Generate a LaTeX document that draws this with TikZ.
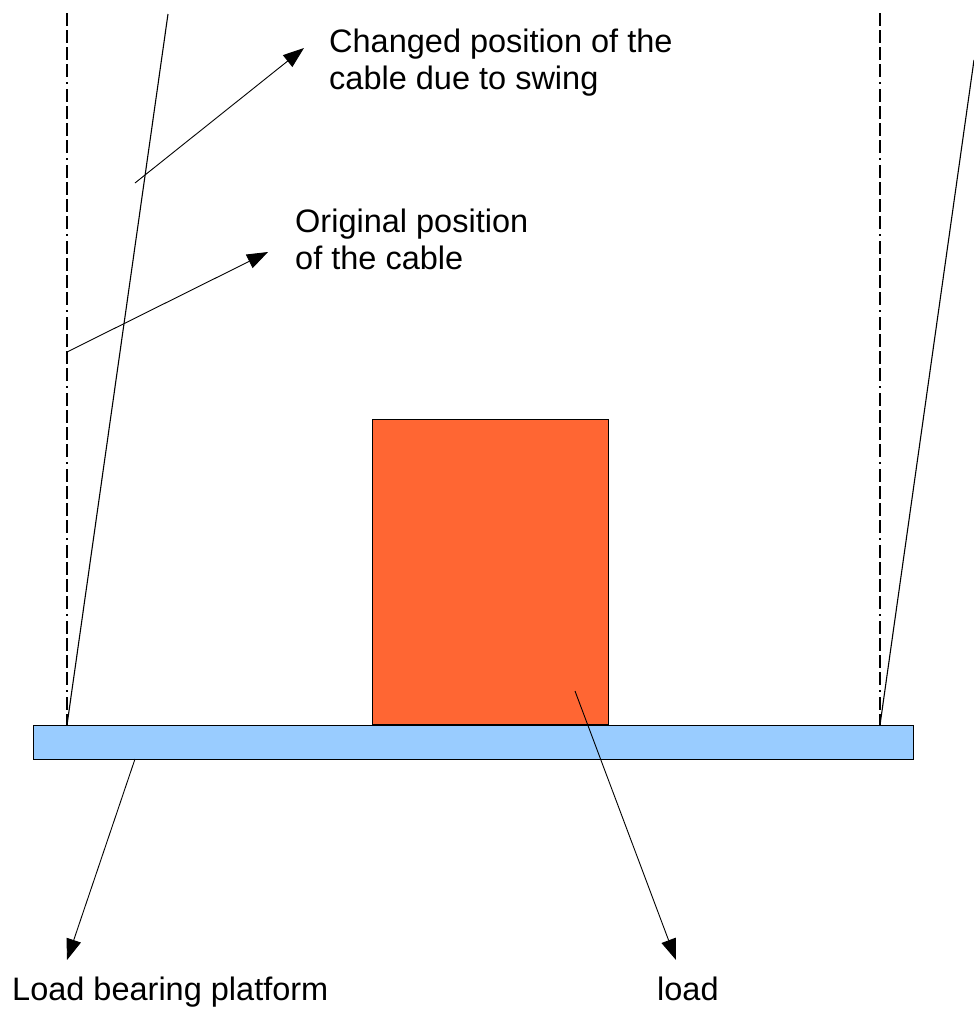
\documentclass[tikz,border=0pt]{standalone}
\usepackage{fontspec}
\setmainfont{Liberation Sans}
\usepackage{xcolor}
\definecolor{loadfill}{RGB}{255, 102, 51}
\definecolor{platfill}{RGB}{153, 204, 255}
\usetikzlibrary{arrows.meta}

\begin{document}
\begin{tikzpicture}[x=1pt, y=-1pt,
    cable/.style={line width=1.1pt},
    plumb/.style={line width=1.1pt, dash pattern=on 13pt off 4pt on 13pt off 4pt on 13pt off 4pt on 13pt off 5pt on 2pt off 5pt},
    pointer/.style={line width=0.9pt, -{Triangle[length=21pt, width=15pt]}},
    block/.style={draw, line width=1.2pt, inner sep=0pt},
    notetext/.style={font=\fontsize{32.5}{37}\selectfont, inner sep=0pt, align=left}]
        \useasboundingbox (0,0) rectangle (974,1012);

        % Load and platform
        \node[block, fill=loadfill, anchor=south west, minimum width=236pt, minimum height=305pt] (load) at (372,725) {};
        \node[block, fill=platfill, anchor=north west, minimum width=880pt, minimum height=34pt] (platform) at (33,725) {};

        % Cable ends
        \coordinate (lplumbtop) at (67,13);
        \coordinate (lfoot) at (67,725);
        \coordinate (rplumbtop) at (880,13);
        \coordinate (rfoot) at (880,725);
        \coordinate (lswingtop) at (168,14);
        \coordinate (rswingtop) at (974,60);

        % Original (plumb) and swung cables
        \draw[plumb] (lplumbtop) -- (lfoot);
        \draw[plumb] (rplumbtop) -- (rfoot);
        \draw[cable] (lswingtop) -- (lfoot);
        \draw[cable] (rswingtop) -- (rfoot);

        % Texts (base = last line)
        \node[notetext, anchor=base west] (swing) at (329,89) {Changed position of the\\cable due to swing};
        \node[notetext, anchor=base west] (orig) at (295,269) {Original position\\of the cable};
        \node[notetext, anchor=base west] (platname) at (12,1000) {Load bearing platform};
        \node[notetext, anchor=base west] (loadname) at (657,1000) {load};

        % Pointers
        \coordinate (swingfrom) at (135,183);
        \coordinate (swingto) at (304,48);
        \coordinate (origfrom) at (67,352);
        \coordinate (origto) at (268,252);
        \coordinate (platfrom) at (135,759);
        \coordinate (platto) at (67,960);
        \coordinate (loadfrom) at (575,691);
        \coordinate (loadto) at (676,960);
        \draw[pointer] (swingfrom) -- (swingto);
        \draw[pointer] (origfrom) -- (origto);
        \draw[pointer] (platfrom) -- (platto);
        \draw[pointer] (loadfrom) -- (loadto);
    \end{tikzpicture}
\end{document}
